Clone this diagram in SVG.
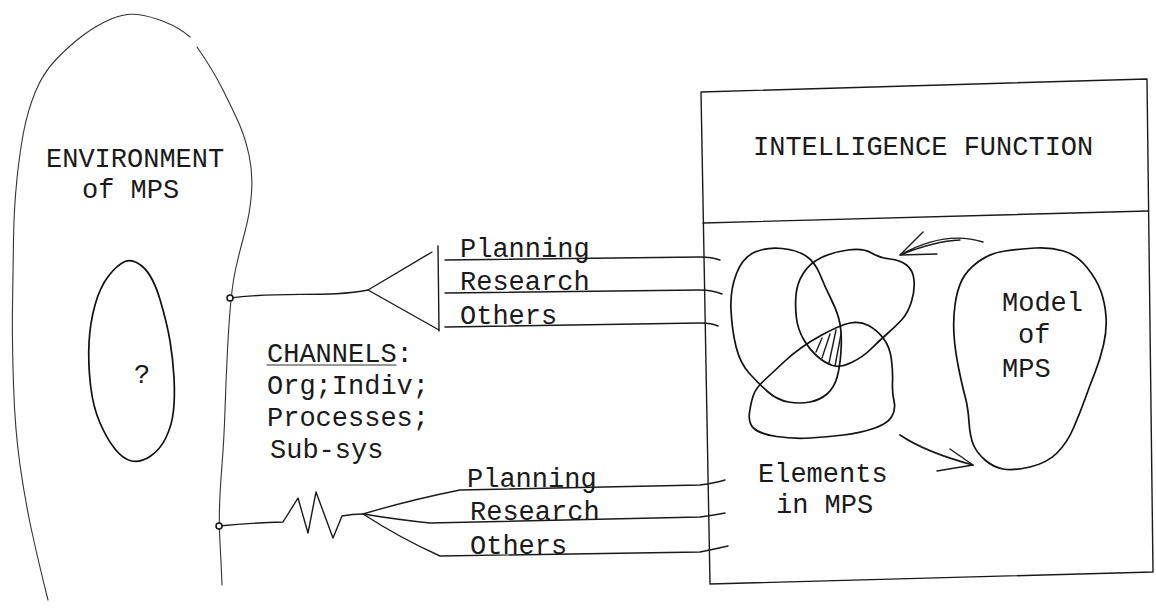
<svg xmlns="http://www.w3.org/2000/svg" width="1156" height="608" viewBox="0 0 1156 608">
<style>
.t{font-family:"Liberation Mono","DejaVu Sans Mono",monospace;font-size:27px;fill:#1a1a1a}
.ln{fill:none;stroke:#1a1a1a;stroke-width:1.4;stroke-linecap:round;stroke-linejoin:round}
.thin{fill:none;stroke:#333;stroke-width:1.1;stroke-linecap:round;stroke-linejoin:round}
.blob{fill:none;stroke:#111;stroke-width:1.7;stroke-linejoin:round}
.dot{fill:#fff;stroke:#111;stroke-width:1.5}
</style>
<rect width="1156" height="608" fill="#fff"/>
<g id="environment">
<path class="thin" d="M48,600 Q38,560 31.5,530 Q25,500 20,465 Q15,430 13.5,385 Q12,340 12.5,306.5 Q13,273 13.5,240 Q14,207 17,178.5 Q20,150 24,130 Q28,110 35.5,91.5 Q43,73 56.5,59 Q70,45 83.5,35 Q97,25 111,19 Q125,13 137.5,14.5 Q150,16 165,22 Q180,28 190,37"/>
<path class="thin" d="M197,47 Q213,70 223,90 Q233,110 239,123.5 Q245,137 249,155 Q253,173 251.5,193 Q250,213 245,231.5 Q240,250 236.5,265 Q233,280 231,300 Q229,320 227.5,350 Q226,380 225,410 Q224,440 222,465 Q220,490 219.5,508 Q219,526 220,543 Q221,560 222,585"/>
<text class="t" x="46" y="167">ENVIRONMENT</text>
<text class="t" x="82" y="198">of MPS</text>
</g>
<g id="mps">
<path class="blob" d="M125,261.5 Q133,258 143,267 Q153,276 160,299.5 Q167,323 170,341 Q173,359 174,377.5 Q175,396 173.5,410.5 Q172,425 166,437.5 Q160,450 150,456.5 Q140,463 131.5,461 Q123,459 115,449 Q107,439 100,423 Q93,407 90.5,385 Q88,363 89,343 Q90,323 95,305 Q100,287 108.5,276 Q117,265 125,261.5 Z"/>
<text class="t" x="134" y="383">?</text>
</g>
<g id="channels">
<text class="t" x="267" y="362">CHANNELS:</text>
<line class="thin" x1="267" y1="365" x2="396" y2="365"/>
<text class="t" x="267" y="394">Org;Indiv;</text>
<text class="t" x="267" y="426">Processes;</text>
<text class="t" x="270" y="458">Sub-sys</text>
</g>
<g id="intelligence-function">
<path class="ln" d="M701,92 L1147,79 L1153,572 L710,584 Z"/>
<path class="ln" d="M703,223 L1148,211"/>
<text class="t" x="753" y="155">INTELLIGENCE FUNCTION</text>
</g>
<g id="elements">
<path class="blob" d="M736.5,273.5 Q743,257 755,252 Q767,247 782,248.5 Q797,250 806,256 Q815,262 820,274.5 Q825,287 831.5,300 Q838,313 840,324 Q842,335 841,351 Q840,367 837,377.5 Q834,388 827,394 Q820,400 810,402 Q800,404 788.5,402 Q777,400 767.5,391.5 Q758,383 749,373 Q740,363 736,346.5 Q732,330 731,310 Q730,290 736.5,273.5 Z"/>
<path class="blob" d="M796,295 Q797,283 803.5,273 Q810,263 821.5,257.5 Q833,252 848,250 Q863,248 871.5,253 Q880,258 890,259 Q900,260 906.5,265 Q913,270 914,280 Q915,290 911.5,301.5 Q908,313 901.5,320 Q895,327 887.5,333.5 Q880,340 871.5,348.5 Q863,357 851.5,362.5 Q840,368 832.5,365.5 Q825,363 817.5,356.5 Q810,350 804,340 Q798,330 796.5,318.5 Q795,307 796,295 Z"/>
<path class="blob" d="M785,361 Q800,347 820,336 Q840,325 850,323 Q860,321 868.5,325.5 Q877,330 883.5,338.5 Q890,347 891.5,360 Q893,373 892.5,382.5 Q892,392 894,401 Q896,410 891.5,417 Q887,424 873.5,428.5 Q860,433 843.5,435 Q827,437 810,438 Q793,439 776.5,436.5 Q760,434 754,428.5 Q748,423 749.5,412.5 Q751,402 753.5,395 Q756,388 763,381.5 Q770,375 785,361 Z"/>
<path class="ln" d="M816,352 L822,338 M822,358 L830,334 M829,363 L836,330 M835,366 L841,334"/>
<text class="t" x="758" y="482">Elements</text>
<text class="t" x="776" y="513">in MPS</text>
</g>
<g id="model">
<path class="blob" d="M955,305 Q957,290 962,280 Q967,270 978.5,261.5 Q990,253 1005,251 Q1020,249 1035,248 Q1050,247 1063.5,251 Q1077,255 1087,267.5 Q1097,280 1101,291.5 Q1105,303 1106,316.5 Q1107,330 1103.5,345 Q1100,360 1095,372.5 Q1090,385 1085,399 Q1080,413 1073.5,428 Q1067,443 1057,453 Q1047,463 1030,467 Q1013,471 1003,469 Q993,467 985,460 Q977,453 973.5,445 Q970,437 969,422 Q968,407 965,396 Q962,385 958.5,367.5 Q955,350 954,335 Q953,320 955,305 Z"/>
<text class="t" x="1002" y="311">Model</text>
<text class="t" x="1018" y="343">of</text>
<text class="t" x="1002" y="377">MPS</text>
</g>
<g id="top-channel">
<text class="t" x="460" y="257">Planning</text>
<text class="t" x="460" y="290">Research</text>
<text class="t" x="460" y="324">Others</text>
</g>
<g id="bottom-channel">
<text class="t" x="467" y="487">Planning</text>
<text class="t" x="470" y="520">Research</text>
<text class="t" x="470" y="554">Others</text>
</g>
<g id="connectors">
<path class="ln" d="M230,298 C280,291 330,298 368,290"/>
<path class="ln" d="M432,252 L368,290 L439,330"/>
<path class="ln" d="M438,246 L439,331"/>
<path class="ln" d="M445,260 L700,257 Q712,257 720,260"/>
<path class="ln" d="M445,293 L700,290 Q712,290 722,294"/>
<path class="ln" d="M445,327 L700,323 Q712,323 718,326"/>
<path class="ln" d="M219,526 Q250,523 283,522 L298,498 L308,533 L316,492 L333,538 L342,516 Q352,514 363,514"/>
<path class="ln" d="M363,514 Q410,500 460,490 L700,485 Q715,483 725,480"/>
<path class="ln" d="M363,514 Q400,520 430,523 L700,517 Q715,515 725,513"/>
<path class="ln" d="M363,514 Q400,538 440,556 L700,552 Q715,549 728,546"/>
<circle class="dot" cx="230" cy="298" r="3"/>
<circle class="dot" cx="219" cy="526" r="3"/>
<path class="ln" d="M983,242 Q945,230 900,255 Q935,241 960,240"/>
<path class="ln" d="M900,255 L923,232 M900,255 L937,254"/>
<path class="ln" style="stroke-width:1.8" d="M900,435 Q925,452 973,465"/>
<path class="ln" d="M950,449 L973,465 L937,471"/>
</g>
</svg>
